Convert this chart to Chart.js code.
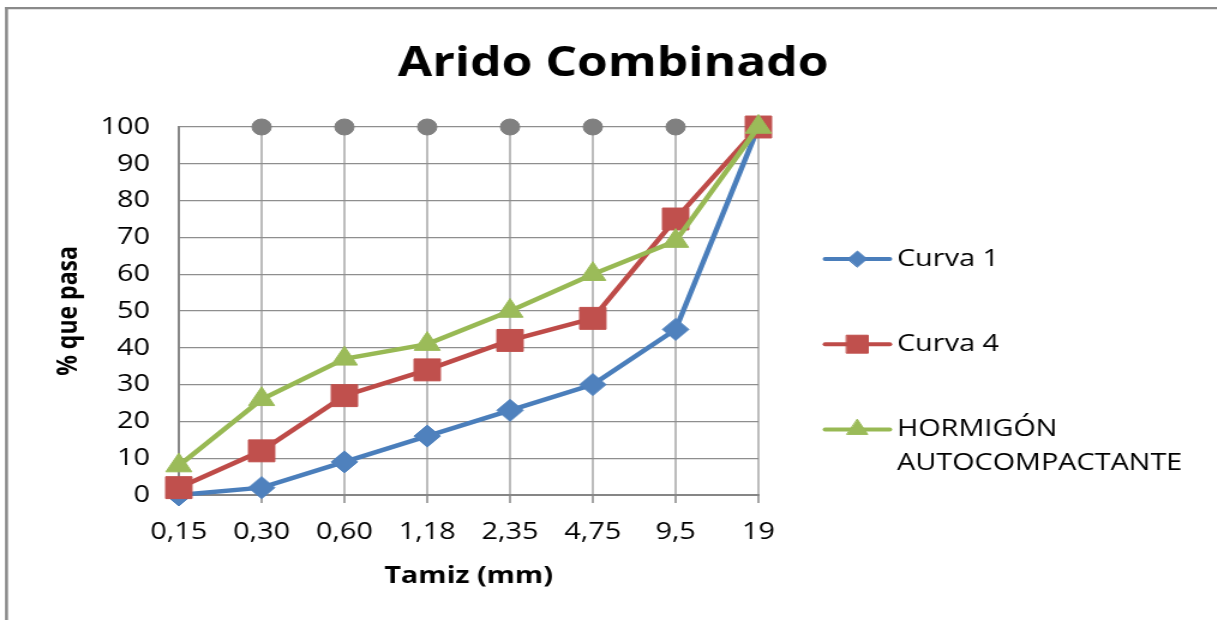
<!DOCTYPE html>
<html>
<head>
<meta charset="utf-8">
<title>Arido Combinado</title>
<script src="https://cdn.jsdelivr.net/npm/chart.js@4.4.1/dist/chart.umd.min.js"></script>
<style>
  html, body { margin: 0; padding: 0; background: #fff; overflow: hidden; width: 1217px; height: 620px; }
  /* the drawing is laid out on a narrower canvas and widened horizontally */
  #wrap { width: 1014px; height: 620px; transform: scaleX(1.2); transform-origin: 0 0; overflow: hidden; }
  canvas { display: block; }
</style>
</head>
<body>
<div id="wrap"><canvas id="chart" width="1014" height="620" style="width:1014px;height:620px"></canvas></div>
<script>
// Sieve openings (mm) and percentage passing for each grading curve
const categories = ['0,15', '0,30', '0,60', '1,18', '2,35', '4,75', '9,5', '19'];
const curva1 = [0, 2, 9, 16, 23, 30, 45, 100];
const curva4 = [2, 12, 27, 34, 42, 48, 75, 100];
const hormigonAutocompactante = [8, 26, 37, 41, 50, 60, 69, 100];
// grey markers along the 100 % line at each sieve
const sieveMarks = [null, 100, 100, 100, 100, 100, 100, 100];
const yTickValues = [0, 10, 20, 30, 40, 50, 60, 70, 80, 90, 100];
const seriesNames = [['Curva 1'], ['Curva 4'], ['HORMIGÓN', 'AUTOCOMPACTANTE']];

const FONT = '"Open Sans", "Liberation Sans", sans-serif';

// outer frame of the chart box (left and top edges)
const framePlugin = {
  id: 'frame',
  beforeDraw(chart) {
    const { ctx, width, height } = chart;
    ctx.save();
    ctx.strokeStyle = '#8a8a8a';
    ctx.lineCap = 'butt';
    ctx.lineWidth = 2.5;
    ctx.beginPath();
    ctx.moveTo(5.4, 7);
    ctx.lineTo(5.4, height);
    ctx.stroke();
    ctx.lineWidth = 2.3;
    ctx.beginPath();
    ctx.moveTo(4.2, 8.2);
    ctx.lineTo(width, 8.2);
    ctx.stroke();
    ctx.restore();
  }
};

// legend on the right: line with marker, then label (may span two lines)
const sideLegend = {
  id: 'sideLegend',
  afterDraw(chart) {
    const { ctx, chartArea } = chart;
    const lineStart = chartArea.right + 55.5;
    const lineLen = 54;
    const textX = lineStart + 60;
    const firstRow = 259;
    const rowGap = 85.2;
    const lineGap = 34;
    const markerSizes = [8, 12.7, 10];
    ctx.save();
    for (let i = 0; i < 3; i++) {
      const ds = chart.data.datasets[i];
      const y = firstRow + i * rowGap;
      ctx.strokeStyle = ds.borderColor;
      ctx.lineWidth = 4;
      ctx.lineCap = 'round';
      ctx.beginPath();
      ctx.moveTo(lineStart, y);
      ctx.lineTo(lineStart + lineLen, y);
      ctx.stroke();
      ctx.fillStyle = ds.pointBackgroundColor;
      ctx.strokeStyle = ds.pointBorderColor;
      ctx.lineWidth = 1;
      Chart.helpers.drawPoint(ctx, { pointStyle: ds.pointStyle, radius: markerSizes[i], rotation: 0, borderWidth: 1 },
        lineStart + lineLen / 2, y);
      ctx.fillStyle = '#000';
      ctx.font = '24px ' + FONT;
      ctx.textAlign = 'left';
      ctx.textBaseline = 'middle';
      seriesNames[i].forEach((t, k) => ctx.fillText(t, textX, y + k * lineGap));
    }
    ctx.restore();
  }
};

function build() {
  new Chart(document.getElementById('chart'), {
    type: 'line',
    data: {
      labels: categories,
      datasets: [
        {
          label: seriesNames[0].join(' '),
          data: curva1,
          borderColor: '#4A7EBB',
          backgroundColor: '#4F81BD',
          pointBackgroundColor: '#4F81BD',
          pointBorderColor: '#4F81BD',
          borderWidth: 4.5,
          pointStyle: 'rectRot',
          pointRadius: 11,
          pointBorderWidth: 1,
          tension: 0,
          order: 3,
          clip: false
        },
        {
          label: seriesNames[1].join(' '),
          data: curva4,
          borderColor: '#BE4B48',
          backgroundColor: '#C0504D',
          pointBackgroundColor: '#C0504D',
          pointBorderColor: '#C0504D',
          borderWidth: 4.5,
          pointStyle: 'rect',
          pointRadius: 15.5,
          pointBorderWidth: 1,
          tension: 0,
          order: 2,
          clip: false
        },
        {
          label: seriesNames[2].join(' '),
          data: hormigonAutocompactante,
          borderColor: '#98B954',
          backgroundColor: '#9BBB59',
          pointBackgroundColor: '#9BBB59',
          pointBorderColor: '#9BBB59',
          borderWidth: 4.5,
          pointStyle: 'triangle',
          pointRadius: 12.5,
          pointBorderWidth: 1,
          tension: 0,
          order: 1,
          clip: false
        },
        {
          label: 'Tamices',
          data: sieveMarks,
          showLine: false,
          pointStyle: 'circle',
          pointRadius: 8,
          pointBackgroundColor: '#808080',
          pointBorderColor: '#808080',
          pointBorderWidth: 1,
          order: 4,
          clip: false
        }
      ]
    },
    options: {
      responsive: false,
      animation: false,
      devicePixelRatio: 1,
      events: [],
      layout: { padding: { left: 8, right: 0, top: 0, bottom: 0 } },
      plugins: {
        legend: { display: false },
        tooltip: { enabled: false },
        title: {
          display: true,
          text: 'Arido Combinado',
          color: '#000',
          font: { family: FONT, size: 41.5, weight: 'bold', lineHeight: 1.2 },
          padding: { top: 39.6, bottom: 37.6 }
        }
      },
      scales: {
        x: {
          type: 'category',
          offset: false,
          afterFit: s => { s.height = 125; },
          border: { display: true, color: '#868686', width: 2 },
          grid: {
            display: true,
            color: c => (c.index === 0 ? 'rgba(0,0,0,0)' : '#bcbcbc'),
            lineWidth: 2,
            borderDash: [2, 3],
            drawTicks: true,
            tickLength: 8,
            tickColor: '#868686',
            tickWidth: 1.5,
            tickBorderDash: []
          },
          ticks: {
            color: '#000',
            font: { family: FONT, size: 24 },
            padding: 15,
            maxRotation: 0,
            autoSkip: false
          },
          title: {
            display: true,
            text: 'Tamiz (mm)',
            color: '#000',
            font: { family: FONT, size: 24, weight: 'bold', lineHeight: 1.2 },
            padding: { top: 0, bottom: 29.6 }
          }
        },
        y: {
          type: 'linear',
          min: 0,
          max: 100,
          afterFit: s => { s.width = 141; },
          afterBuildTicks: s => { s.ticks = yTickValues.map(v => ({ value: v })); },
          border: { display: true, color: '#868686', width: 2 },
          grid: {
            display: true,
            color: '#8e8e8e',
            lineWidth: 1.3,
            drawTicks: false
          },
          ticks: {
            color: '#000',
            font: { family: FONT, size: 24 },
            padding: 24
          },
          title: {
            display: true,
            text: '% que pasa',
            color: '#000',
            font: { family: FONT, size: 23, weight: 'bold', lineHeight: 1.2 },
            padding: { top: 36, bottom: 0 }
          }
        },
        // empty right-hand axis that reserves room for the legend
        legendSpace: {
          type: 'linear',
          axis: 'y',
          position: 'right',
          display: true,
          afterFit: s => { s.width = 382; },
          grid: { display: false, drawTicks: false },
          border: { display: false },
          ticks: { display: false }
        }
      }
    },
    plugins: [framePlugin, sideLegend]
  });
}

const fontLoads = ['24px "Open Sans"', 'bold 24px "Open Sans"', 'bold 41.5px "Open Sans"']
  .map(f => document.fonts.load(f).catch(() => null));
Promise.all(fontLoads).then(build, build);
</script>
</body>
</html>
